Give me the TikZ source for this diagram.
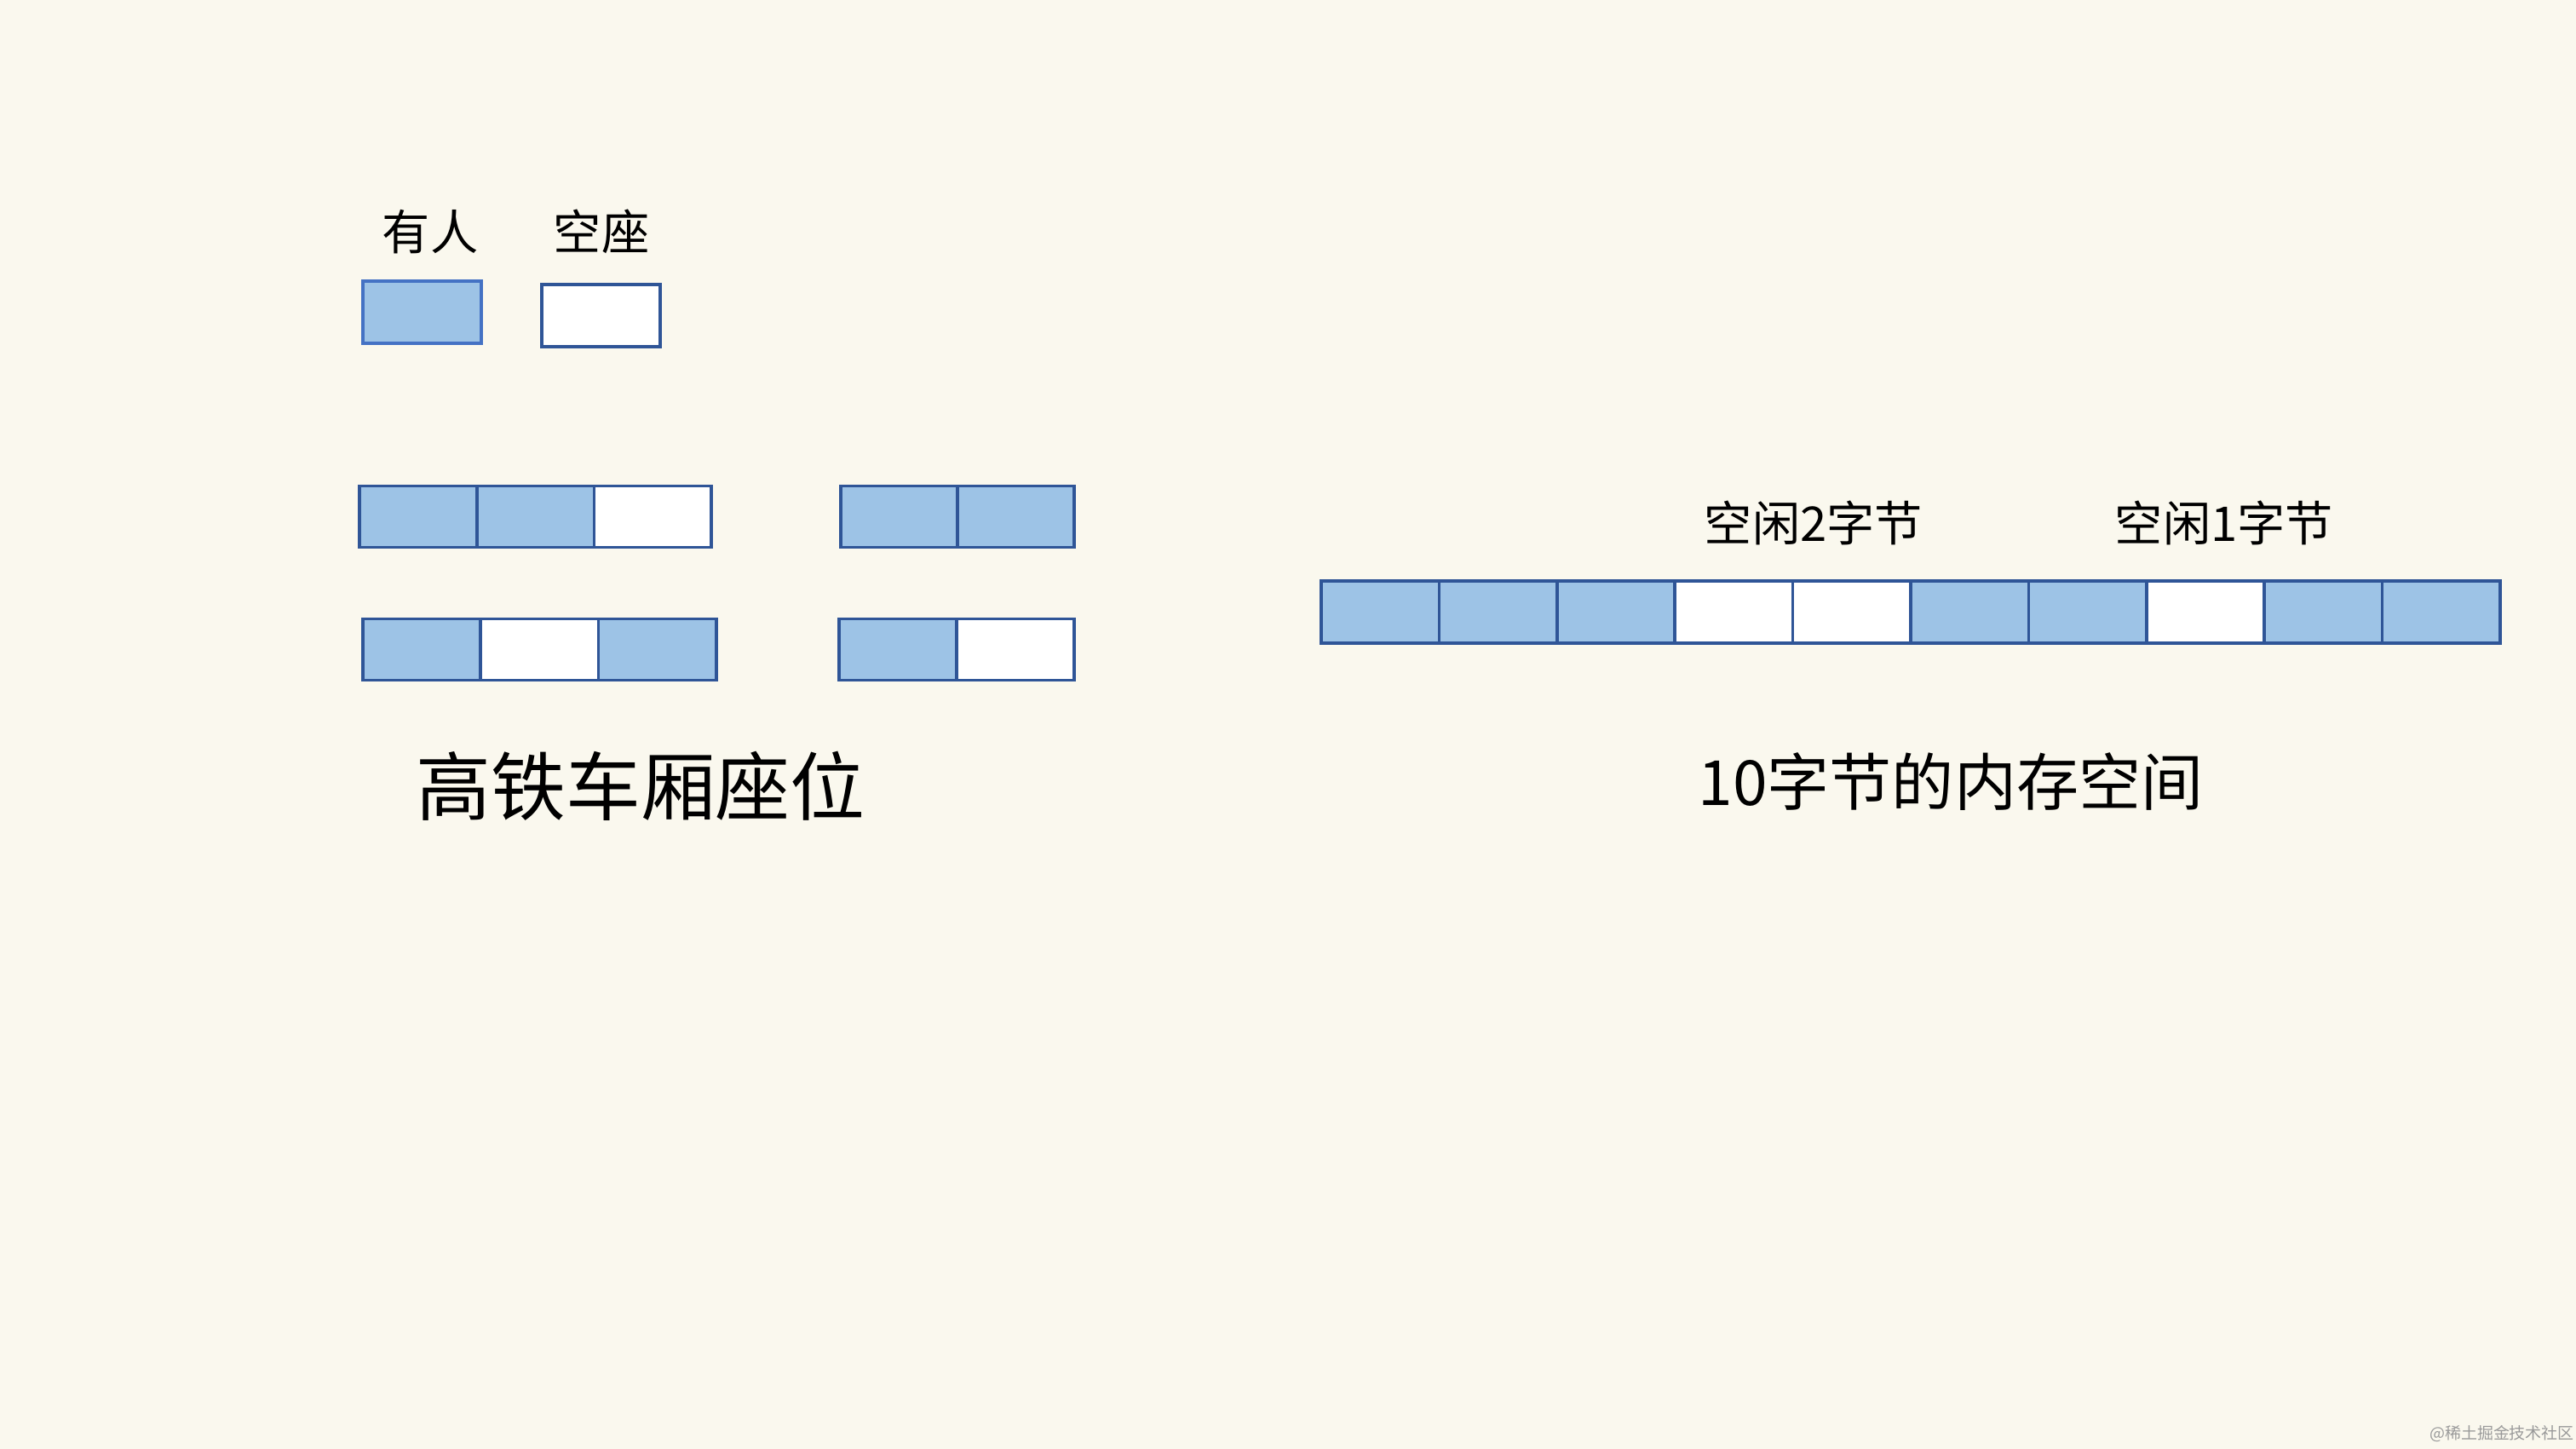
\documentclass[tikz,border=0pt]{standalone}
\usepackage{fontspec}
\setmainfont{Noto Sans CJK SC}
\usetikzlibrary{positioning}
\definecolor{cpaper}{HTML}{FAF8EE}
\definecolor{cseat}{HTML}{9DC3E6}
\definecolor{cedge}{HTML}{2F5597}
\definecolor{cedgelt}{HTML}{4472C4}
\definecolor{cmark}{HTML}{9A9A9A}
\tikzset{
  cell/.style={rectangle,draw=cedge,line width=1pt,inner sep=0pt,outer sep=0pt,minimum height=0.72cm},
  taken/.style={cell,fill=cseat},
  free/.style={cell,fill=white},
  tag/.style={font=\fontsize{16}{18}\selectfont,inner sep=0pt},
}

\begin{document}
\begin{tikzpicture}
  % seats in a train car next to bytes in a block of memory
  \fill[cpaper] (0,0) rectangle (30.24,17.01);
  \useasboundingbox (0,0) rectangle (30.24,17.01);

  % legend
  \node[taken,draw=cedgelt,minimum width=1.39cm,minimum height=0.73cm] (keytaken) at (4.955,13.345) {};
  \node[free,minimum width=1.39cm,minimum height=0.73cm] (keyfree) at (7.055,13.305) {};
  \node[tag] (keytakenlab) at (5.05,14.29) {有人};
  \node[tag] (keyfreelab)  at (7.06,14.29) {空座};

  % seat rows
  \node[taken,minimum width=1.377cm] (a1) at (4.909,10.945) {};
  \node[taken,minimum width=1.377cm,right=0pt of a1] (a2) {};
  \node[free,minimum width=1.377cm,right=0pt of a2]  (a3) {};
  \node[taken,minimum width=1.37cm] (b1) at (10.555,10.945) {};
  \node[taken,minimum width=1.37cm,right=0pt of b1] (b2) {};

  \node[taken,minimum width=1.383cm] (c1) at (4.951,9.385) {};
  \node[free,minimum width=1.383cm,right=0pt of c1]  (c2) {};
  \node[taken,minimum width=1.383cm,right=0pt of c2] (c3) {};
  \node[taken,minimum width=1.38cm] (d1) at (10.54,9.385) {};
  \node[free,minimum width=1.38cm,right=0pt of d1]  (d2) {};

  \node[font=\fontsize{25}{28}\selectfont,inner sep=0pt] (seattitle) at (7.52,7.78) {高铁车厢座位};

  % ten bytes of memory
  \node[taken,minimum width=1.384cm,minimum height=0.73cm] (m1) at (16.202,9.825) {};
  \node[taken,minimum width=1.384cm,minimum height=0.73cm,right=0pt of m1] (m2) {};
  \node[taken,minimum width=1.384cm,minimum height=0.73cm,right=0pt of m2] (m3) {};
  \node[free,minimum width=1.384cm,minimum height=0.73cm,right=0pt of m3]  (m4) {};
  \node[free,minimum width=1.384cm,minimum height=0.73cm,right=0pt of m4]  (m5) {};
  \node[taken,minimum width=1.384cm,minimum height=0.73cm,right=0pt of m5] (m6) {};
  \node[taken,minimum width=1.384cm,minimum height=0.73cm,right=0pt of m6] (m7) {};
  \node[free,minimum width=1.384cm,minimum height=0.73cm,right=0pt of m7]  (m8) {};
  \node[taken,minimum width=1.384cm,minimum height=0.73cm,right=0pt of m8] (m9) {};
  \node[taken,minimum width=1.384cm,minimum height=0.73cm,right=0pt of m9] (m10) {};

  \node[tag] (gaptwo) at (21.29,10.87) {空闲2字节};
  \node[tag] (gapone) at (26.11,10.87) {空闲1字节};

  \node[font=\fontsize{20.8}{24}\selectfont,inner sep=0pt] (memtitle) at (22.90,7.83) {10字节的内存空间};

  \node[font=\fontsize{5.4}{7}\selectfont,text=cmark,inner sep=0pt] (mark) at (29.37,0.18) {@稀土掘金技术社区};
\end{tikzpicture}
\end{document}
